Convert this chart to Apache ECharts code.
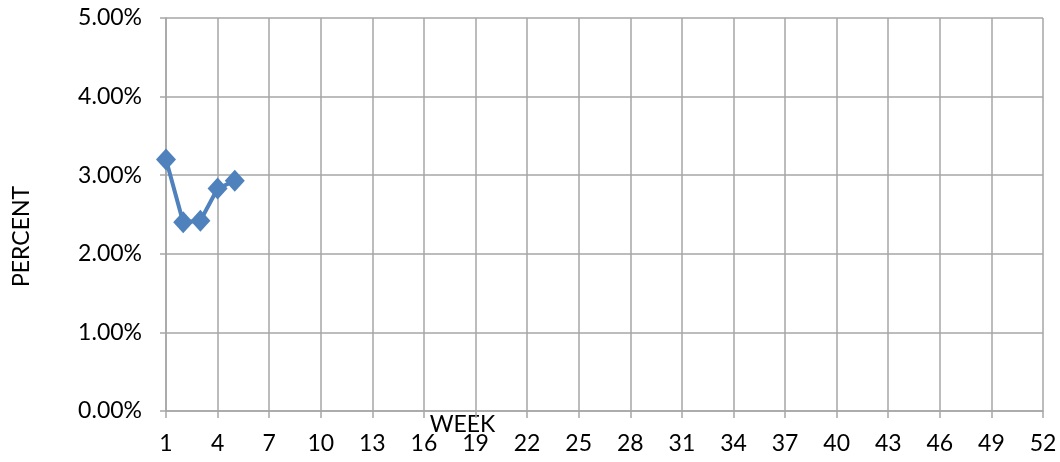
<!DOCTYPE html>
<html>
<head>
<meta charset="utf-8">
<script src="https://cdn.jsdelivr.net/npm/echarts@6/dist/echarts.min.js"></script>
<style>
  html, body { margin: 0; padding: 0; background: #fff; }
  #main { width: 1060px; height: 462px; }
</style>
</head>
<body>
<div id="main"></div>
<script>
// weeks 1..52 on the x axis
const weeks = [];
for (let w = 1; w <= 52; w++) weeks.push(String(w));

// percent values (only weeks 1-5 have data)
const percentValues = [3.2, 2.4, 2.42, 2.83, 2.93];

const axisGray = "#a6a6a6";
const font = "Lato";

const chartDom = document.querySelector("#main");
const myChart = echarts.init(chartDom);

myChart.setOption({
    animation: false,
    grid: { left: 166, right: 17, top: 18, bottom: 51, outerBoundsMode: "none", containLabel: false },
    xAxis: {
        type: "category",
        data: weeks,
        boundaryGap: false,
        name: "WEEK",
        nameLocation: "middle",
        nameGap: 2,
        nameMoveOverlap: false,
        nameTextStyle: {
            color: "#000", fontFamily: font, fontSize: 23,
            verticalAlign: "top", padding: [0, 284, 0, 0]
        },
        axisLine: { lineStyle: { color: axisGray, width: 1.5 } },
        axisTick: { interval: 2, length: 7, lineStyle: { color: axisGray, width: 1.5 } },
        axisLabel: { interval: 2, margin: 21, color: "#000", fontFamily: font, fontSize: 23 },
        splitLine: { show: true, interval: 2, lineStyle: { color: axisGray, width: 1.5 } }
    },
    yAxis: {
        type: "value",
        min: 0,
        max: 5,
        interval: 1,
        name: "PERCENT",
        nameLocation: "middle",
        nameRotate: 90,
        nameGap: 133,
        nameMoveOverlap: false,
        nameTextStyle: {
            color: "#000", fontFamily: font, fontSize: 23, padding: [0, 44, 0, 0]
        },
        axisLine: { show: true, lineStyle: { color: axisGray, width: 1.5 } },
        axisTick: { show: true, length: 6, lineStyle: { color: axisGray, width: 1.5 } },
        axisLabel: {
            margin: 24, color: "#000", fontFamily: font, fontSize: 23,
            formatter: (v) => v.toFixed(2) + "%"
        },
        splitLine: { lineStyle: { color: axisGray, width: 1.5 } }
    },
    series: [{
        type: "line",
        data: percentValues,
        symbol: "diamond",
        symbolSize: [20, 22],
        showAllSymbol: true,
        lineStyle: { color: "#4f81bd", width: 4 },
        itemStyle: { color: "#4f81bd" }
    }]
});
</script>
</body>
</html>
